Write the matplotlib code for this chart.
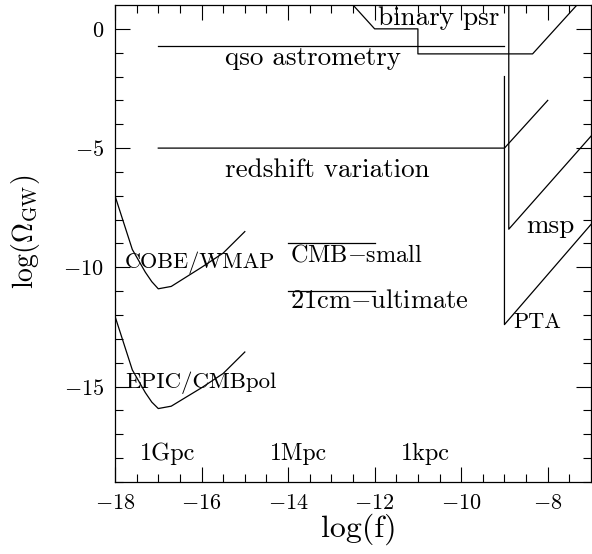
import numpy as np
import matplotlib
matplotlib.use("Agg")
import matplotlib.pyplot as plt

plt.rcParams['font.family'] = 'cmr10'
plt.rcParams['mathtext.fontset'] = 'cm'
plt.rcParams['axes.formatter.use_mathtext'] = True

# sensitivity curves, log(f) vs log(Omega_GW)
cobe_x = [-18.0, -17.6, -17.3, -17.15, -17.0, -16.7, -16.0, -15.5, -15.0]
cobe_y = [-7.0, -9.25, -10.2, -10.6, -10.9, -10.8, -10.0, -9.4, -8.5]

epic_x = [-18.0, -17.6, -17.3, -17.15, -17.0, -16.7, -16.0, -15.5, -15.0]
epic_y = [-12.05, -14.3, -15.25, -15.65, -15.92, -15.82, -15.05, -14.45, -13.55]

qso_x = [-17.0, -9.0]
qso_y = [-0.7, -0.7]

redshift_x = [-17.0, -9.0, -8.0]
redshift_y = [-5.0, -5.0, -3.0]

psr_x = [-12.5, -12.0, -11.0, -11.0, -8.35, -7.3]
psr_y = [1.0, 0.0, 0.0, -1.05, -1.05, 1.05]

msp_x = [-8.9, -8.9, -7.0]
msp_y = [1.0, -8.4, -4.5]

pta_x = [-9.0, -9.0, -7.0]
pta_y = [-2.0, -12.4, -8.2]

cmb_small_x = [-14.0, -12.0]
cmb_small_y = [-9.0, -9.0]

cm21_x = [-14.0, -12.0]
cm21_y = [-11.0, -11.0]

labels = ['binary psr', 'qso astrometry', 'redshift variation', 'COBE/WMAP',
          'CMB$-$small', '21cm$-$ultimate', 'msp', 'PTA', 'EPIC/CMBpol',
          '1Gpc', '1Mpc', '1kpc']
label_x = [-11.93, -15.46, -15.46, -17.77, -13.96, -13.96, -8.5, -8.79, -17.77,
           -17.42, -14.42, -11.4]
label_y = [0.18, -1.5, -6.23, -10.04, -9.74, -11.72, -8.54, -12.54, -15.06,
           -18.07, -18.07, -18.07]
label_size = [19.5, 19.5, 19.5, 16, 17.5, 19, 19.5, 16, 16.5, 17.5, 17, 17.5]

fig = plt.figure(figsize=(5.92, 5.54), dpi=100)
ax = fig.add_axes([115/592, 72/554, 476/592, 477/554])

for xs, ys in [(cobe_x, cobe_y), (epic_x, epic_y), (qso_x, qso_y),
               (redshift_x, redshift_y), (psr_x, psr_y), (msp_x, msp_y),
               (pta_x, pta_y), (cmb_small_x, cmb_small_y), (cm21_x, cm21_y)]:
    ax.plot(xs, ys, color='black', lw=0.9)

for t, x, y, fs in zip(labels, label_x, label_y, label_size):
    ax.text(x, y, t, fontsize=fs, va='baseline', ha='left')

ax.set_xlim(-18, -7)
ax.set_ylim(-19, 1)
ax.set_xticks(np.arange(-18, -7, 2))
ax.set_xticks(np.arange(-18, -7, 0.5), minor=True)
ax.set_yticks(np.arange(-15, 1, 5))
ax.set_yticks(np.arange(-19, 1, 1), minor=True)
ax.tick_params(which='both', direction='in', top=True, right=True, width=0.8)
ax.tick_params(which='major', length=10.5, labelsize=16, pad=8)
ax.tick_params(which='minor', length=5.5)
for s in ax.spines.values():
    s.set_linewidth(0.9)

ax.set_xlabel('log(f)', fontsize=23)
ax.xaxis.set_label_coords(0.512, -0.10)
ax.xaxis.label.set_va('center')
ax.set_ylabel(r'log($\Omega_{\rm GW}$)', fontsize=20)
ax.yaxis.set_label_coords(-0.187, 0.525)
ax.yaxis.label.set_va('center')

fig.savefig('out.png', dpi=100)
